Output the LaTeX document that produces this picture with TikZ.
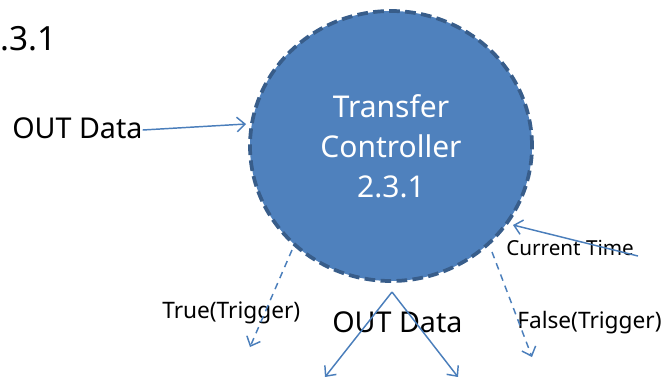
\documentclass[tikz,border=0pt]{standalone}
\usepackage{fontspec}
\setmainfont{Noto Sans}
\usetikzlibrary{shapes.geometric,arrows.meta}
\definecolor{fillblue}{HTML}{4F81BD}
\definecolor{rimblue}{HTML}{385D8A}
\definecolor{lineblue}{HTML}{4A7EBB}
\begin{document}
\begin{tikzpicture}[x=0.75pt,y=-0.75pt,
  lbl/.style={inner sep=0pt,anchor=base west,text=black},
  flow/.style={draw=lineblue,line width=1.1pt,-{Straight Barb[length=6pt,width=11pt,line width=1.1pt]}},
  dflow/.style={flow,dash pattern=on 5pt off 4pt},
  proc/.style={ellipse,fill=fillblue,draw=rimblue,line width=2.8pt,dash pattern=on 8pt off 4pt,
    minimum width=282*0.75pt,minimum height=270*0.75pt,inner sep=0pt,text=white,align=center,
    font=\fontsize{22.5}{30}\selectfont}]
\useasboundingbox (0,0) rectangle (671,376);
\node[proc] (ctrl) at (391,146) {Transfer\\Controller\\2.3.1};
\node[lbl,font=\fontsize{25}{28}\selectfont] (num) at (0,50) {.3.1};
\node[lbl,font=\fontsize{21.5}{26}\selectfont] (outL) at (12,138) {OUT Data};
\node[lbl,font=\fontsize{15.5}{19}\selectfont] (cur) at (506,255) {Current Time};
\node[lbl,font=\fontsize{17}{21}\selectfont] (tru) at (162,318) {True(Trigger)};
\node[lbl,font=\fontsize{21.5}{26}\selectfont] (outB) at (332,332) {OUT Data};
\node[lbl,font=\fontsize{17}{21}\selectfont] (fal) at (517,328) {False(Trigger)};
\coordinate (inL) at (246,124);
\coordinate (ctail) at (638,256);
\coordinate (inR) at (513,225);
\coordinate (ts) at (292,250);
\coordinate (te) at (250,347);
\coordinate (fs) at (492,252);
\coordinate (fe) at (532,357);
\coordinate (apex) at (392,292);
\coordinate (bl) at (325,377);
\coordinate (br) at (458,377);
\draw[flow] (outL.east |- 0,130) -- (inL);
\draw[flow] (ctail) -- (inR);
\draw[dflow] (ts) -- (te);
\draw[dflow] (fs) -- (fe);
\draw[flow] (apex) -- (bl);
\draw[flow] (apex) -- (br);
\end{tikzpicture}
\end{document}
